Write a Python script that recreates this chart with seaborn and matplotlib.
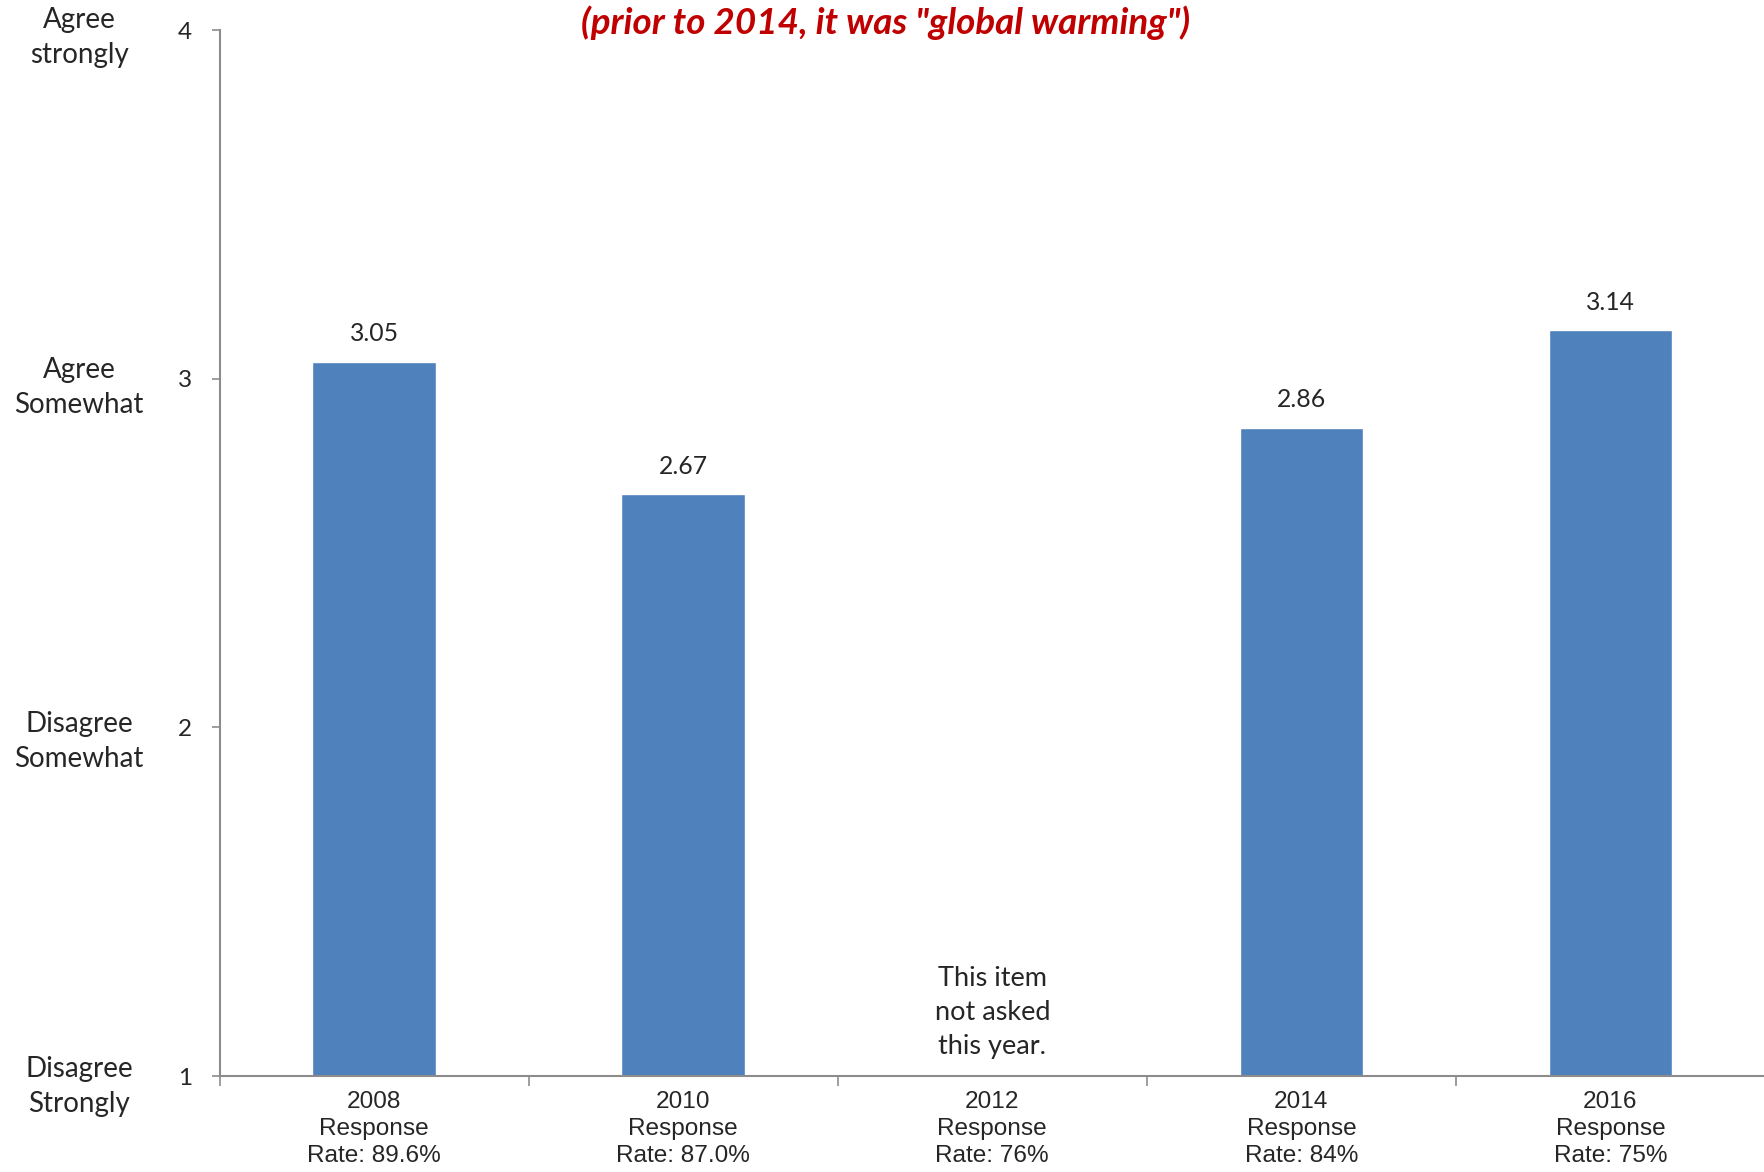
import matplotlib
matplotlib.use("Agg")
import matplotlib.pyplot as plt
import matplotlib.transforms as mtransforms
import seaborn as sns
import pandas as pd
import numpy as np

years = ["2008", "2010", "2012", "2014", "2016"]
response_rates = ["89.6%", "87.0%", "76%", "84%", "75%"]
values = [3.05, 2.67, np.nan, 2.86, 3.14]
scale_ticks = [1, 2, 3, 4]
scale_labels = ["Disagree\nStrongly", "Disagree\nSomewhat", "Agree\nSomewhat", "Agree\nstrongly"]
subtitle = '(prior to 2014, it was "global warming")'
missing_note = "This item\nnot asked\nthis year."

sns.set_style("white")
plt.rcParams['font.family'] = ['Lato', 'DejaVu Sans']

cats = [f"{y}\nResponse\nRate: {r}" for y, r in zip(years, response_rates)]
df = pd.DataFrame({"cat": cats, "value": values})

fig = plt.figure(figsize=(17.65, 11.72), dpi=100)
ax = fig.add_axes([0.1244, 0.0819, 0.8756, 0.8921])

sns.barplot(data=df, x="cat", y="value", order=cats, color="#4F81BD",
            saturation=1, width=0.4, ax=ax)

ax.set_ylim(1, 4)
ax.set_xlim(-0.5, 4.5)
ax.set_xlabel("")
ax.set_ylabel("")

gray = "#8C8C8C"
for s in ["top", "right"]:
    ax.spines[s].set_visible(False)
for s in ["left", "bottom"]:
    ax.spines[s].set_color(gray)
    ax.spines[s].set_linewidth(1.5)

ax.set_yticks(scale_ticks)
ax.set_yticklabels([str(t) for t in scale_ticks], fontsize=17.5)
ax.tick_params(axis="y", length=6, width=1.2, color=gray, pad=14, left=True)

ax.set_xticks(range(len(cats)))
ax.set_xticklabels(cats, fontsize=17.6, family=["Liberation Sans"], linespacing=1.3)
ax.set_xticks(np.arange(-0.5, len(cats), 1.0), minor=True)
ax.tick_params(axis="x", which="major", length=0, pad=11)
ax.tick_params(axis="x", which="minor", length=7, width=1.2, color=gray, bottom=True)

# value labels
for i, v in enumerate(values):
    if not np.isnan(v):
        ax.annotate(f"{v:.2f}", xy=(i, v), xytext=(0, 20), textcoords="offset points",
                    ha="center", va="center", fontsize=17.8)

# missing-year note
ax.text(2, 1.05, missing_note, ha="center", va="bottom", fontsize=19.5, linespacing=1.45)

# left scale labels
trans = mtransforms.blended_transform_factory(ax.transAxes, ax.transData)
offsets = [-0.03, -0.04, -0.025, -0.02]
for t, lab, off in zip(scale_ticks, scale_labels, offsets):
    ax.text(-0.0909, t + off, lab, transform=trans, ha="center", va="center",
            fontsize=20, linespacing=1.45, clip_on=False)

fig.text(0.502, 0.981, subtitle, ha="center", va="center", fontsize=26.5,
         color="#C00000", fontweight="bold", fontstyle="italic")

fig.savefig("out.png", dpi=100)
